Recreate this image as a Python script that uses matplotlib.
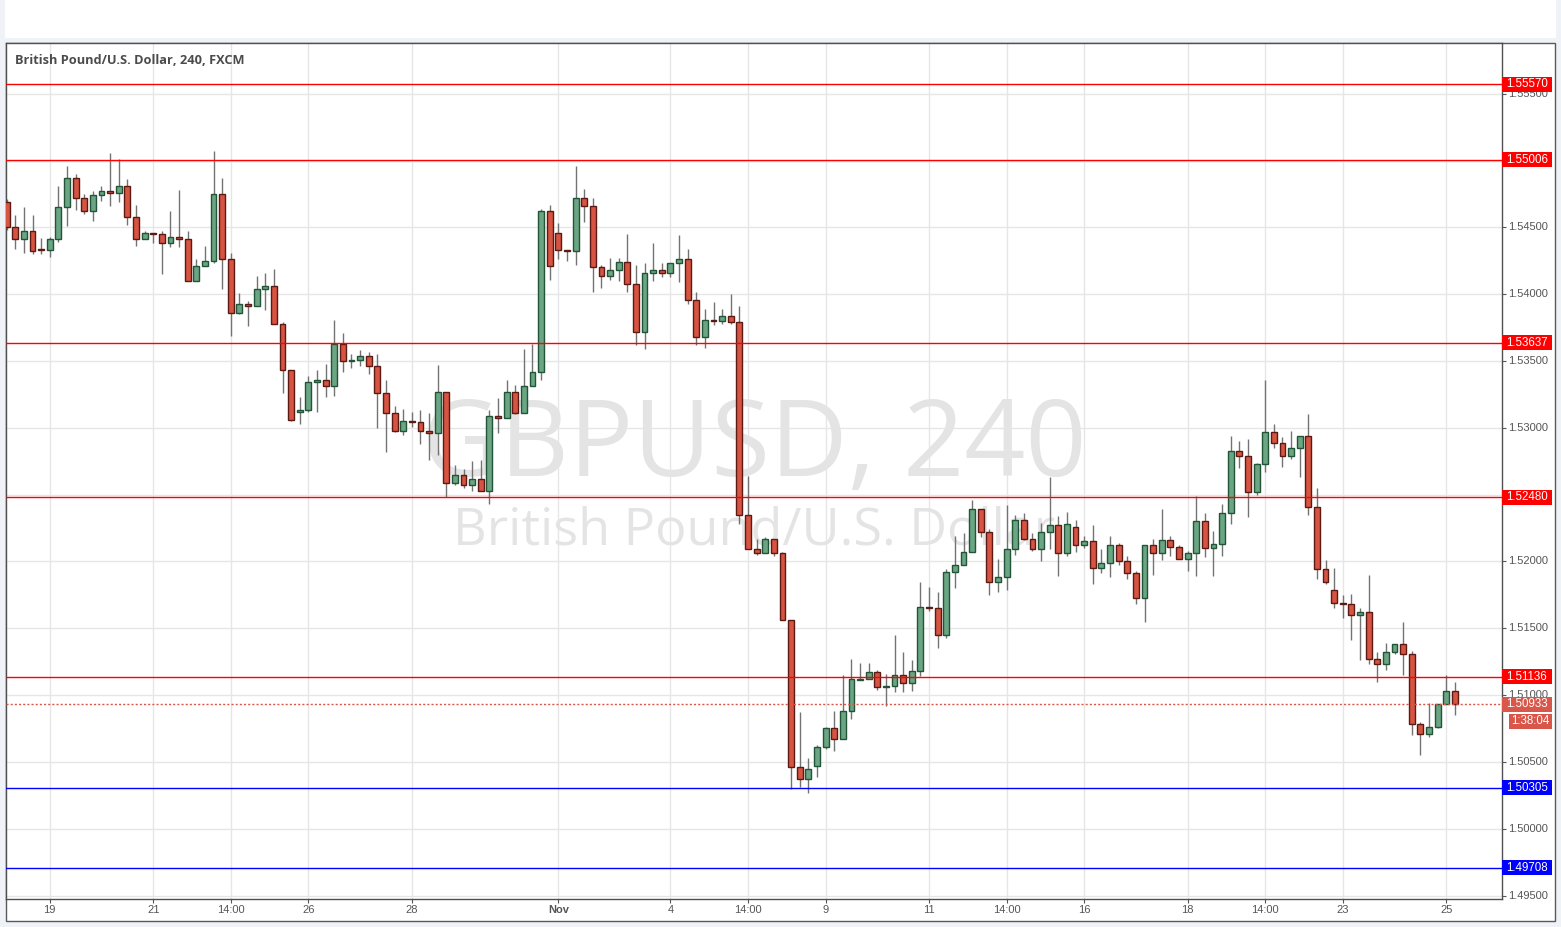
import numpy as np
import matplotlib.pyplot as plt
import matplotlib.transforms as mtransforms
from matplotlib.patches import Rectangle

plt.rcParams['font.family'] = ['Liberation Sans', 'DejaVu Sans']

# GBPUSD 4h candles (FXCM)
opens = [1.5469, 1.5450, 1.5441, 1.5447, 1.5434, 1.5433, 1.5441, 1.5465, 1.5487, 1.5472,
         1.5462, 1.5474, 1.5477, 1.5476, 1.5481, 1.5458, 1.5441, 1.5446, 1.5445, 1.5438,
         1.5443, 1.5441, 1.5410, 1.5421, 1.5425, 1.5475, 1.5426, 1.5386, 1.5393, 1.5391,
         1.5404, 1.5406, 1.5378, 1.5343, 1.5312, 1.5313, 1.5334, 1.5336, 1.5331, 1.5363,
         1.5350, 1.5351, 1.5354, 1.5346, 1.5326, 1.5311, 1.5298, 1.5305, 1.5304, 1.5298,
         1.5296, 1.5327, 1.5259, 1.5265, 1.5257, 1.5262, 1.5253, 1.5309, 1.5307, 1.5327,
         1.5311, 1.5331, 1.5342, 1.5462, 1.5446, 1.5433, 1.5432, 1.5472, 1.5466, 1.5420,
         1.5414, 1.5418, 1.5424, 1.5408, 1.5372, 1.5416, 1.5418, 1.5416, 1.5423, 1.5426,
         1.5396, 1.5368, 1.5381, 1.5380, 1.5384, 1.5379, 1.5235, 1.5209, 1.5206, 1.5217,
         1.5206, 1.5156, 1.5046, 1.5037, 1.5047, 1.5061, 1.5075, 1.5067, 1.5088, 1.5111,
         1.5112, 1.5117, 1.5106, 1.5107, 1.5115, 1.5109, 1.5118, 1.5166, 1.5165, 1.5145,
         1.5192, 1.5197, 1.5207, 1.5239, 1.5222, 1.5185, 1.5188, 1.5209, 1.5231, 1.5217,
         1.5209, 1.5222, 1.5227, 1.5206, 1.5226, 1.5212, 1.5215, 1.5195, 1.5199, 1.5212,
         1.5200, 1.5191, 1.5173, 1.5212, 1.5206, 1.5216, 1.5211, 1.5202, 1.5206, 1.5230,
         1.5210, 1.5213, 1.5236, 1.5283, 1.5279, 1.5252, 1.5273, 1.5297, 1.5289, 1.5279,
         1.5285, 1.5294, 1.5241, 1.5194, 1.5179, 1.5169, 1.5168, 1.5160, 1.5162, 1.5127,
         1.5123, 1.5132, 1.5138, 1.5131, 1.5078, 1.5071, 1.5076, 1.5093, 1.5103]
highs = [1.5471, 1.5459, 1.5465, 1.5459, 1.5442, 1.5443, 1.5481, 1.5496, 1.5490, 1.5475,
         1.5477, 1.5481, 1.5506, 1.5501, 1.5486, 1.5467, 1.5447, 1.5446, 1.5447, 1.5462,
         1.5478, 1.5447, 1.5426, 1.5436, 1.5507, 1.5487, 1.5431, 1.5401, 1.5395, 1.5414,
         1.5416, 1.5419, 1.5379, 1.5343, 1.5323, 1.5339, 1.5343, 1.5348, 1.5381, 1.5371,
         1.5355, 1.5358, 1.5357, 1.5355, 1.5336, 1.5316, 1.5314, 1.5312, 1.5313, 1.5311,
         1.5347, 1.5327, 1.5272, 1.5269, 1.5275, 1.5276, 1.5313, 1.5322, 1.5336, 1.5332,
         1.5359, 1.5363, 1.5464, 1.5467, 1.5453, 1.5433, 1.5496, 1.5479, 1.5472, 1.5422,
         1.5427, 1.5427, 1.5445, 1.5422, 1.5423, 1.5438, 1.5423, 1.5423, 1.5444, 1.5434,
         1.5402, 1.5389, 1.5394, 1.5389, 1.5400, 1.5391, 1.5264, 1.5217, 1.5218, 1.5217,
         1.5207, 1.5156, 1.5087, 1.5053, 1.5063, 1.5076, 1.5088, 1.5115, 1.5127, 1.5124,
         1.5124, 1.5119, 1.5116, 1.5145, 1.5132, 1.5126, 1.5185, 1.5181, 1.5177, 1.5194,
         1.5219, 1.5221, 1.5246, 1.5239, 1.5224, 1.5202, 1.5242, 1.5235, 1.5236, 1.5221,
         1.5229, 1.5263, 1.5234, 1.5237, 1.5231, 1.5219, 1.5227, 1.5209, 1.5219, 1.5214,
         1.5204, 1.5193, 1.5212, 1.5217, 1.5239, 1.5219, 1.5212, 1.5208, 1.5249, 1.5236,
         1.5223, 1.5243, 1.5294, 1.5290, 1.5292, 1.5274, 1.5336, 1.5303, 1.5293, 1.5298,
         1.5294, 1.5310, 1.5255, 1.5201, 1.5195, 1.5175, 1.5176, 1.5165, 1.5190, 1.5132,
         1.5139, 1.5138, 1.5155, 1.5133, 1.5080, 1.5094, 1.5093, 1.5115, 1.5110]
lows = [1.5448, 1.5434, 1.5431, 1.5430, 1.5430, 1.5428, 1.5439, 1.5451, 1.5463, 1.5460,
        1.5455, 1.5470, 1.5466, 1.5469, 1.5452, 1.5436, 1.5441, 1.5438, 1.5415, 1.5435,
        1.5435, 1.5410, 1.5410, 1.5421, 1.5423, 1.5404, 1.5369, 1.5385, 1.5376, 1.5391,
        1.5388, 1.5378, 1.5326, 1.5305, 1.5303, 1.5312, 1.5312, 1.5323, 1.5324, 1.5342,
        1.5345, 1.5346, 1.5340, 1.5300, 1.5282, 1.5297, 1.5295, 1.5301, 1.5288, 1.5276,
        1.5280, 1.5248, 1.5257, 1.5255, 1.5253, 1.5253, 1.5243, 1.5296, 1.5307, 1.5310,
        1.5311, 1.5331, 1.5336, 1.5411, 1.5426, 1.5425, 1.5422, 1.5454, 1.5402, 1.5405,
        1.5411, 1.5410, 1.5402, 1.5362, 1.5359, 1.5410, 1.5413, 1.5413, 1.5409, 1.5393,
        1.5362, 1.5360, 1.5377, 1.5378, 1.5378, 1.5228, 1.5209, 1.5205, 1.5206, 1.5204,
        1.5156, 1.5030, 1.5031, 1.5027, 1.5039, 1.5060, 1.5058, 1.5067, 1.5082, 1.5111,
        1.5112, 1.5104, 1.5092, 1.5102, 1.5102, 1.5103, 1.5114, 1.5163, 1.5135, 1.5143,
        1.5180, 1.5197, 1.5207, 1.5218, 1.5175, 1.5177, 1.5179, 1.5205, 1.5216, 1.5208,
        1.5200, 1.5209, 1.5189, 1.5204, 1.5207, 1.5210, 1.5183, 1.5191, 1.5188, 1.5197,
        1.5187, 1.5168, 1.5155, 1.5190, 1.5201, 1.5204, 1.5202, 1.5193, 1.5189, 1.5203,
        1.5189, 1.5204, 1.5228, 1.5270, 1.5233, 1.5250, 1.5267, 1.5285, 1.5271, 1.5277,
        1.5263, 1.5235, 1.5187, 1.5183, 1.5165, 1.5158, 1.5141, 1.5126, 1.5123, 1.5110,
        1.5119, 1.5131, 1.5115, 1.5070, 1.5055, 1.5069, 1.5075, 1.5093, 1.5085]
closes = [1.5450, 1.5441, 1.5447, 1.5432, 1.5433, 1.5441, 1.5465, 1.5487, 1.5472, 1.5462,
          1.5474, 1.5477, 1.5476, 1.5481, 1.5458, 1.5441, 1.5446, 1.5445, 1.5438, 1.5443,
          1.5441, 1.5410, 1.5421, 1.5425, 1.5475, 1.5426, 1.5386, 1.5393, 1.5391, 1.5404,
          1.5406, 1.5378, 1.5343, 1.5306, 1.5313, 1.5334, 1.5336, 1.5331, 1.5363, 1.5350,
          1.5351, 1.5354, 1.5346, 1.5326, 1.5311, 1.5298, 1.5305, 1.5304, 1.5298, 1.5296,
          1.5327, 1.5259, 1.5265, 1.5257, 1.5262, 1.5253, 1.5309, 1.5307, 1.5327, 1.5311,
          1.5331, 1.5342, 1.5462, 1.5421, 1.5433, 1.5432, 1.5472, 1.5466, 1.5420, 1.5414,
          1.5418, 1.5424, 1.5408, 1.5372, 1.5416, 1.5418, 1.5416, 1.5423, 1.5426, 1.5396,
          1.5368, 1.5381, 1.5380, 1.5384, 1.5379, 1.5235, 1.5209, 1.5206, 1.5217, 1.5206,
          1.5156, 1.5046, 1.5037, 1.5045, 1.5061, 1.5075, 1.5067, 1.5088, 1.5112, 1.5112,
          1.5117, 1.5106, 1.5107, 1.5115, 1.5109, 1.5118, 1.5166, 1.5165, 1.5145, 1.5192,
          1.5197, 1.5207, 1.5239, 1.5222, 1.5185, 1.5188, 1.5209, 1.5231, 1.5217, 1.5209,
          1.5222, 1.5227, 1.5206, 1.5228, 1.5212, 1.5215, 1.5195, 1.5199, 1.5212, 1.5200,
          1.5191, 1.5173, 1.5212, 1.5206, 1.5216, 1.5211, 1.5202, 1.5206, 1.5230, 1.5210,
          1.5213, 1.5236, 1.5283, 1.5279, 1.5252, 1.5273, 1.5297, 1.5289, 1.5279, 1.5285,
          1.5294, 1.5241, 1.5194, 1.5185, 1.5169, 1.5168, 1.5160, 1.5162, 1.5127, 1.5123,
          1.5132, 1.5138, 1.5131, 1.5078, 1.5071, 1.5076, 1.5093, 1.5103, 1.5093]

price_ticks = [1.495, 1.500, 1.505, 1.510, 1.515, 1.520, 1.525, 1.530,
               1.535, 1.540, 1.545, 1.550, 1.555]
date_pos = [5, 17, 26, 35, 47, 64, 77, 86, 95, 107, 116, 125, 137, 146, 155, 167]
date_labels = ['19', '21', '14:00', '26', '28', 'Nov', '4', '14:00',
               '9', '11', '14:00', '16', '18', '14:00', '23', '25']
levels = [1.55570, 1.55006, 1.53637, 1.52480, 1.51136, 1.50305, 1.49708]
level_colors = ['#ff0000', '#ff0000', '#ff0000', '#ff0000', '#ff0000', '#0000ff', '#0000ff']
last_price = 1.50933
countdown = '1:38:04'

W, H = 1561, 927
fig = plt.figure(figsize=(W / 100, H / 100), dpi=100, facecolor='#eff2f6')


def fx(px):
    return px / W


def fy(py):
    return 1 - py / H


# white strip on top and the chart panel (behind the axes)
fig.patches.append(Rectangle((fx(5), fy(38)), fx(1556) - fx(5), fy(0) - fy(38),
                             transform=fig.transFigure, facecolor='white', edgecolor='none',
                             zorder=-2))
fig.patches.append(Rectangle((fx(5.5), fy(920.5)), fx(1554.5) - fx(5.5), fy(42.5) - fy(920.5),
                             transform=fig.transFigure, facecolor='white',
                             edgecolor='#5a5a5a', lw=1, zorder=-2))

ax = fig.add_axes([fx(6.5), fy(899), fx(1502) - fx(6.5), fy(43) - fy(899)])
ax2 = fig.add_axes([fx(1502), fy(899), fx(1554) - fx(1502), fy(43) - fy(899)])

ymin, ymax = 1.49474, 1.5588
ax.set_xlim(-0.02, 173.47)
ax.set_ylim(ymin, ymax)
ax2.set_ylim(ymin, ymax)
ax2.set_xlim(0, 1)

o = np.array(opens)
h = np.array(highs)
l = np.array(lows)
c = np.array(closes)
x = np.arange(len(o))
up = c >= o

# candles
ax.vlines(x, l, h, color='#737373', lw=1, zorder=2)
ax.bar(x[up], (c - o)[up], bottom=o[up], width=0.68, color='#6ba583',
       edgecolor='#225437', lw=1, zorder=3)
ax.bar(x[~up], (o - c)[~up], bottom=c[~up], width=0.68, color='#d75442',
       edgecolor='#5b1a13', lw=1, zorder=3)

# grid and ticks
ax.set_yticks(price_ticks)
ax.set_xticks(date_pos)
ax.set_xticklabels(date_labels)
ax.grid(color='#e6e6e6', lw=1)
ax.set_axisbelow(True)
ax.tick_params(axis='y', left=False, right=False, labelleft=False)
ax.tick_params(axis='x', length=3, color='#555555', labelsize=8, labelcolor='#555555', pad=1.5)
ax.get_xticklabels()[5].set_fontweight('bold')
for s in ax.spines.values():
    s.set_color('#4f4f4f')
    s.set_linewidth(1)

# watermark
ax.text(0.5, 0.494, 'GBPUSD, 240', transform=ax.transAxes, ha='center', va='baseline',
        fontsize=77, color='#e4e4e4', family='Open Sans', zorder=0.6)
ax.text(0.5, 0.414, 'British Pound/U.S. Dollar', transform=ax.transAxes, ha='center',
        va='baseline', fontsize=37.5, color='#e4e4e4', family='Open Sans', zorder=0.6)

fig.text(fx(15), fy(60), 'British Pound/U.S. Dollar, 240, FXCM', ha='left', va='center',
         fontsize=9.2, fontweight='bold', color='#4b4b4b', family='Open Sans')

# levels
for v, col in zip(levels, level_colors):
    ax.axhline(v, color=col, lw=1, zorder=4)
ax.axhline(last_price, color='#d9574a', lw=1, ls=(0, (1.5, 1.5)), zorder=4)

# price axis
ax2.set_facecolor('none')
for s in ax2.spines.values():
    s.set_visible(False)
ax2.set_xticks([])
ax2.set_yticks(price_ticks)
ax2.tick_params(axis='y', direction='in', length=3, color='#555555', labelleft=False)
trans = mtransforms.blended_transform_factory(ax2.transAxes, ax2.transData)

px = (ymax - ymin) / 856.0
box_h = 15 * px

for t in price_ticks:
    # labels fully hidden behind a level box are not shown
    if any(abs(t - v) < 3 * px for v in levels):
        continue
    ax2.text(0.12, t, f'{t:.5f}', transform=trans, ha='left', va='center',
             fontsize=8, color='#555555', clip_on=True, zorder=1)

for v, col in zip(levels, level_colors):
    ax2.add_patch(Rectangle((0, v - box_h / 2), 0.96, box_h, transform=trans,
                            facecolor=col, edgecolor='none', zorder=5, clip_on=False))
    ax2.text(0.48, v, f'{v:.5f}', transform=trans, ha='center', va='center',
             fontsize=8.3, color='white', zorder=6, clip_on=False)

ax2.add_patch(Rectangle((0, last_price - box_h / 2), 0.96, box_h, transform=trans,
                        facecolor='#d9574a', edgecolor='none', zorder=5, clip_on=False))
ax2.text(0.48, last_price, f'{last_price:.5f}', transform=trans, ha='center', va='center',
         fontsize=8.3, color='white', zorder=6, clip_on=False)
cd_y = last_price - 17 * px
ax2.add_patch(Rectangle((0.13, cd_y - box_h / 2), 0.83, box_h, transform=trans,
                        facecolor='#d9574a', edgecolor='none', zorder=5, clip_on=False))
ax2.text(0.545, cd_y, countdown, transform=trans, ha='center', va='center',
         fontsize=8.3, color='white', zorder=6, clip_on=False)

fig.savefig('out.png', dpi=100, facecolor=fig.get_facecolor())
